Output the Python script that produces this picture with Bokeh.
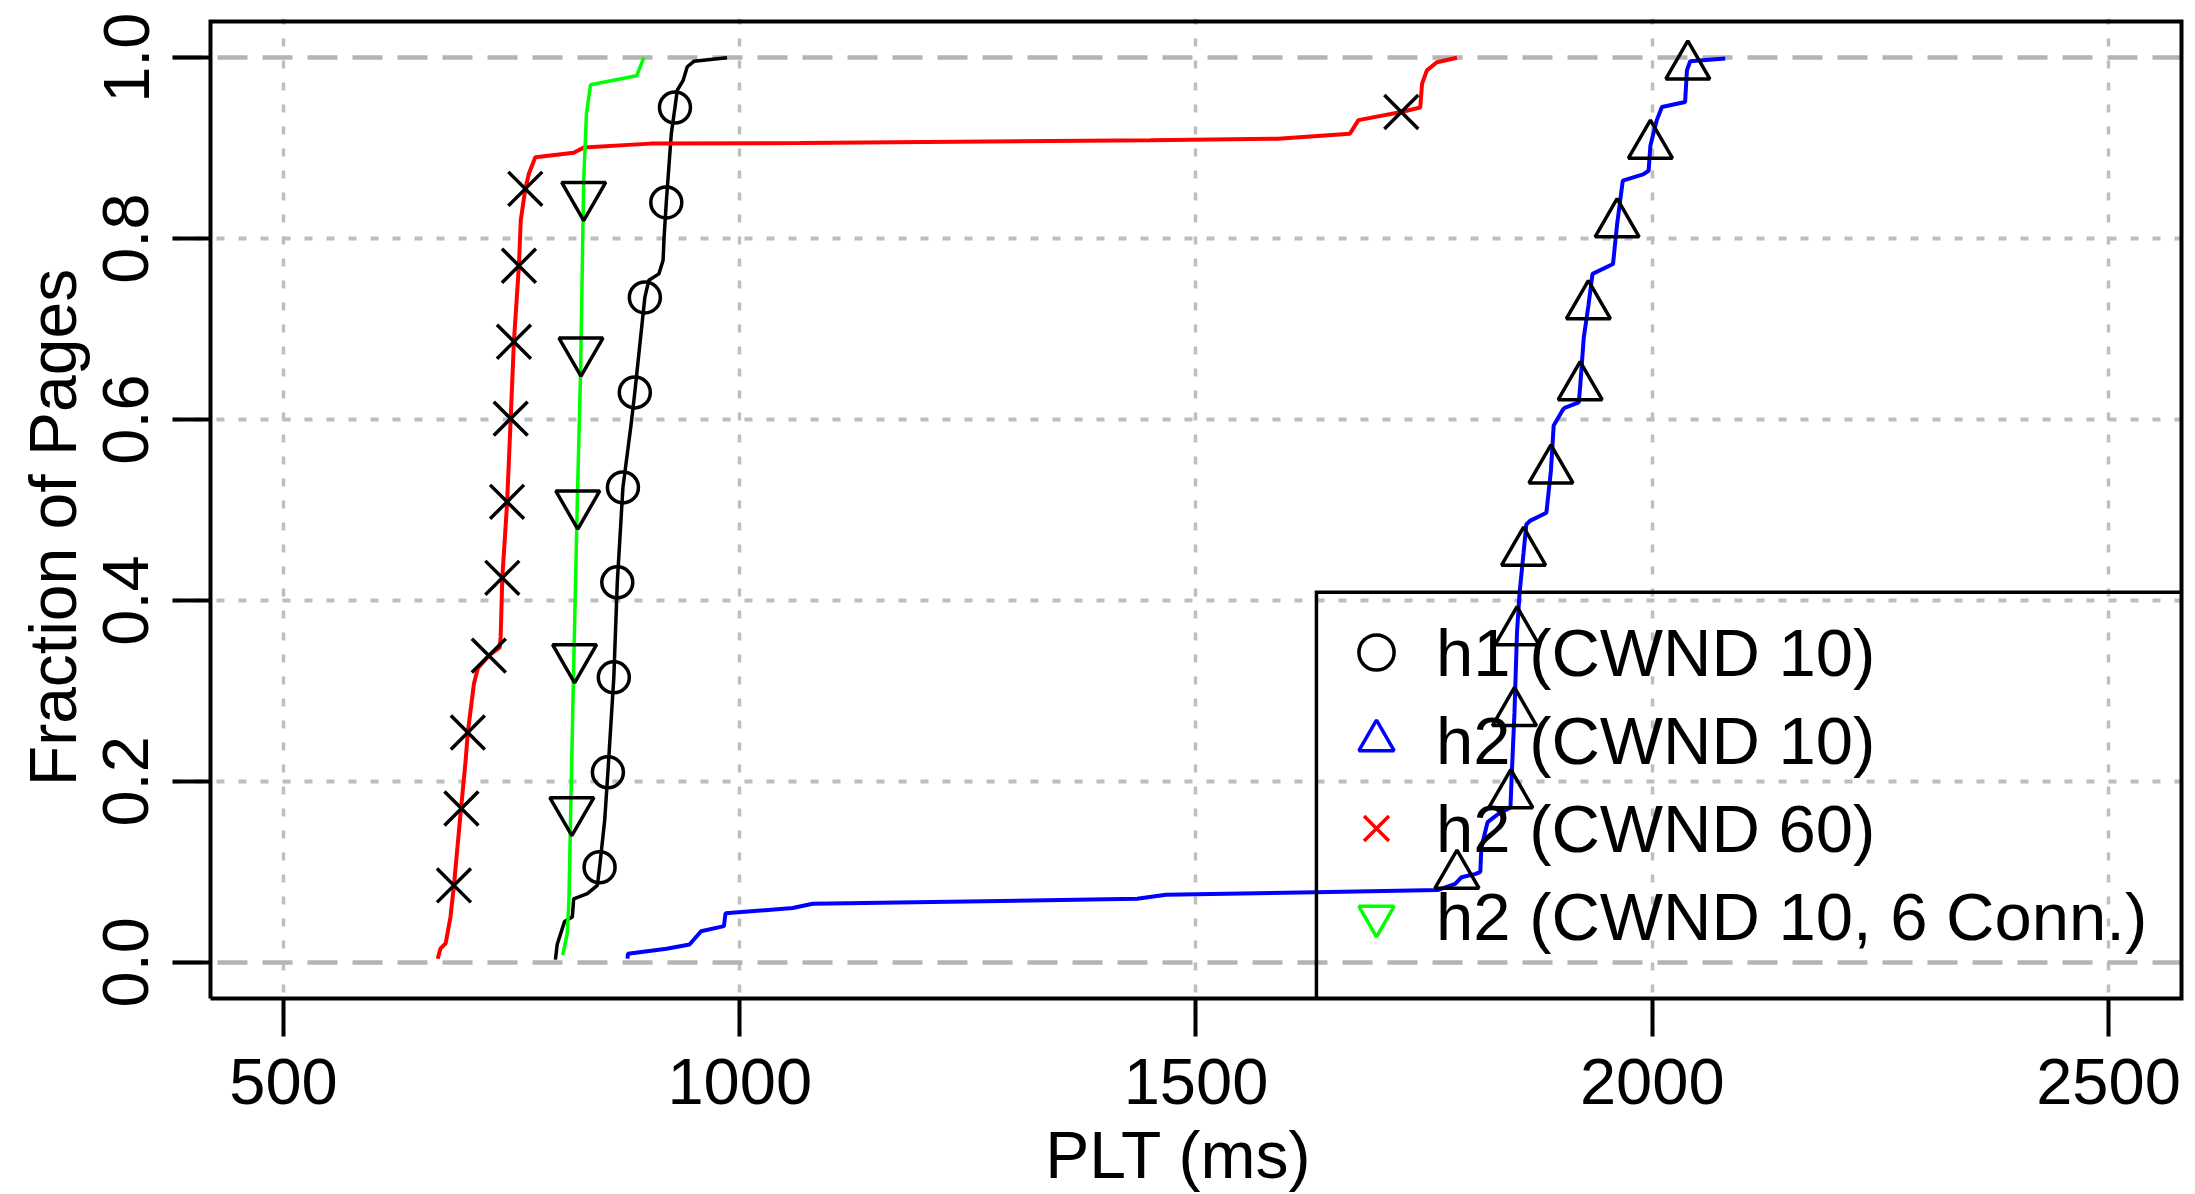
import math
from bokeh.plotting import figure
from bokeh.models import (FixedTicker, PrintfTickFormatter, Grid, Legend, LegendItem, Range1d)
from bokeh.embed import file_html
from bokeh.resources import INLINE

# ---------------- data ----------------
# h1 (CWND 10) -- black ECDF
h1_x = [798, 800, 808, 816.5, 818, 833, 844, 846.4, 852, 855.5, 862, 865.8, 872, 881, 885,
        896, 900.4, 911.4, 916, 917, 919.5, 925, 929, 931.5, 938, 942.5, 949.7, 986]
h1_y = [0.003, 0.02, 0.045, 0.05, 0.07, 0.076, 0.085, 0.105, 0.157, 0.21, 0.315, 0.42, 0.525,
        0.595, 0.63, 0.735, 0.754, 0.761, 0.776, 0.80, 0.84, 0.916, 0.945, 0.964, 0.975,
        0.99, 0.996, 1.0]
h1_mark_x = [846.4, 855.5, 862, 865.8, 872, 885, 896, 919.5, 929]
h1_mark_y = [0.105, 0.21, 0.315, 0.42, 0.525, 0.63, 0.735, 0.84, 0.945]

# h2 (CWND 10) -- blue ECDF
h2_x = [877, 877.5, 919.8, 945, 957.6, 982.7, 984.4, 1058, 1080, 1435.5, 1467, 1630.5, 1765.6,
        1784, 1791, 1806.5, 1811.6, 1812.7, 1819.6, 1830, 1844.6, 1846, 1849, 1851.8, 1854.6,
        1859, 1862, 1866, 1884, 1889, 1892, 1902, 1904, 1919.5, 1921, 1925, 1930, 1934.5,
        1957, 1961.5, 1964.5, 1967.7, 1990, 1996, 1998, 2005, 2010.6, 2036, 2038, 2041.6, 2080]
h2_y = [0.004, 0.0094, 0.015, 0.0197, 0.0344, 0.04, 0.0543, 0.06, 0.0647, 0.0702, 0.0746,
        0.0775, 0.08, 0.0868, 0.094, 0.0978, 0.1, 0.127, 0.155, 0.163, 0.171, 0.2066, 0.2757,
        0.365, 0.408, 0.453, 0.484, 0.488, 0.497, 0.544, 0.5935, 0.6107, 0.613, 0.619, 0.636,
        0.691, 0.7255, 0.761, 0.772, 0.816, 0.839, 0.864, 0.871, 0.875, 0.903, 0.931, 0.9455,
        0.951, 0.986, 0.996, 0.999]
h2_mark_x = [1786, 1845, 1849, 1851.8, 1859, 1889, 1921, 1930, 1961.5, 1998, 2039]
h2_mark_y = [0.096, 0.185, 0.2757, 0.365, 0.453, 0.544, 0.636, 0.7255, 0.816, 0.903, 0.9906]

# h2 (CWND 60) -- red ECDF
h2c60_x = [669, 672, 677.7, 683, 686.8, 694, 699.6, 702, 708.7, 713, 725, 737, 738, 739.8, 745,
           749, 752.5, 758, 760, 765, 769, 776, 818, 829, 902, 1066.6, 1450, 1590, 1668.7,
           1678, 1725, 1745.8, 1747.7, 1753, 1764, 1786]
h2c60_y = [0.004, 0.015, 0.021, 0.05, 0.085, 0.164, 0.223, 0.254, 0.308, 0.325, 0.339, 0.348,
           0.36, 0.425, 0.507, 0.601, 0.686, 0.77, 0.82, 0.855, 0.872, 0.89, 0.895, 0.9006,
           0.905, 0.9057, 0.9088, 0.9105, 0.916, 0.931, 0.94, 0.945, 0.971, 0.986, 0.995, 1.0]
h2c60_mark_x = [686.8, 695, 702, 725, 739.8, 745, 749, 752.5, 758, 765, 1725]
h2c60_mark_y = [0.085, 0.17, 0.254, 0.339, 0.425, 0.509, 0.601, 0.686, 0.77, 0.855, 0.94]

# h2 (CWND 10, 6 Conn.) -- green ECDF
h2c6_x = [806, 811, 812.8, 815, 818, 822, 825.6, 829, 832, 836.5, 887, 894.9]
h2c6_y = [0.008, 0.032, 0.068, 0.179, 0.326, 0.51, 0.654, 0.864, 0.938, 0.97, 0.98, 1.0]
h2c6_mark_x = [816, 819, 822.5, 826, 829]
h2c6_mark_y = [0.168, 0.337, 0.507, 0.676, 0.848]

series_labels = ["h1 (CWND 10)", "h2 (CWND 10)", "h2 (CWND 60)", "h2 (CWND 10, 6 Conn.)"]
x_ticks = [500, 1000, 1500, 2000, 2500]
y_ticks = [0.0, 0.2, 0.4, 0.6, 0.8, 1.0]
y_inner_grid = [0.2, 0.4, 0.6, 0.8]
y_edge_lines = [0.0, 1.0]

# plot-box limits (R style: 4% padding around 500..2500 and 0..1)
box_x0, box_x1 = 420, 2580
box_y0, box_y1 = -0.04, 1.04
legend_box_left, legend_box_top = 1632, 0.409
TICK = 38                       # tick length in px
PAD = 3                         # small frame margin beyond box top/right, px
PX_PER_X = 0.9128               # px per ms
PX_PER_Y = 904.4                # px per unit fraction

FONT = "Liberation Sans"
NAN = float("nan")

# The Bokeh frame is extended by one tick length to the left and bottom, so the
# ticks can be drawn inward from the frame edge; the R-style box is drawn as a path.
p = figure(width=2195, height=1194,
           min_border_left=172, min_border_right=11, min_border_top=18, min_border_bottom=158,
           x_range=Range1d(box_x0 - TICK / PX_PER_X, box_x1 + PAD / PX_PER_X),
           y_range=Range1d(box_y0 - TICK / PX_PER_Y, box_y1 + PAD / PX_PER_Y),
           output_backend="svg", toolbar_location=None)

p.background_fill_color = "white"
p.border_fill_color = "white"
p.outline_line_color = None

# grids
p.xgrid.ticker = FixedTicker(ticks=x_ticks)
p.xgrid.grid_line_color = "#BEBEBE"
p.xgrid.grid_line_width = 3.5
p.xgrid.grid_line_dash = "8 14"
p.ygrid.ticker = FixedTicker(ticks=y_inner_grid)
p.ygrid.grid_line_color = "#BEBEBE"
p.ygrid.grid_line_width = 3.8
p.ygrid.grid_line_dash = "8 14"
edge_grid = Grid(dimension=1, ticker=FixedTicker(ticks=y_edge_lines),
                 grid_line_color="#B4B4B4", grid_line_width=4.5, grid_line_dash="30 15")
p.add_layout(edge_grid)

# axes
xa = p.xaxis[0]
ya = p.yaxis[0]
for ax in (xa, ya):
    ax.axis_line_color = None
    ax.major_tick_out = 0
    ax.major_tick_in = TICK
    ax.major_tick_line_width = 4
    ax.major_tick_line_color = "black"
    ax.minor_tick_line_color = None
    ax.major_label_text_font = FONT
    ax.major_label_text_font_size = "65px"
    ax.major_label_text_color = "black"
    ax.axis_label_text_font = FONT
    ax.axis_label_text_font_size = "66px"
    ax.axis_label_text_font_style = "normal"
    ax.axis_label_text_color = "black"

xa.ticker = FixedTicker(ticks=x_ticks, minor_ticks=[])
xa.axis_label = "PLT (ms)"
xa.major_label_standoff = 22
xa.axis_label_standoff = 11

ya.ticker = FixedTicker(ticks=y_ticks, minor_ticks=[])
ya.formatter = PrintfTickFormatter(format="%.1f")
ya.major_label_orientation = "parallel"
ya.axis_label = "Fraction of Pages"
ya.major_label_standoff = 24
ya.axis_label_standoff = 11

MW = 3.5
# series
p.line(h1_x, h1_y, line_color="black", line_width=3.5)
p.scatter(h1_mark_x, h1_mark_y, marker="circle", size=31, line_color="black",
          fill_color=None, line_width=MW)

p.line(h2_x, h2_y, line_color="#0000FF", line_width=4)
p.scatter(h2_mark_x, h2_mark_y, marker="triangle", size=44, line_color="black",
          fill_color=None, line_width=MW)

p.line(h2c60_x, h2c60_y, line_color="#FF0000", line_width=4)
p.scatter(h2c60_mark_x, h2c60_mark_y, marker="x", size=48, line_color="black",
          fill_color=None, line_width=MW)

p.line(h2c6_x, h2c6_y, line_color="#00FF00", line_width=3.5)
p.scatter(h2c6_mark_x, h2c6_mark_y, marker="inverted_triangle", size=44, line_color="black",
          fill_color=None, line_width=MW)

# plot box (R's box()) and legend box outline, drawn as open/closed paths
p.line([box_x0, box_x1, box_x1, box_x0, box_x0], [box_y0, box_y0, box_y1, box_y1, box_y0],
       line_color="black", line_width=4, line_join="miter")
p.line([box_x1, legend_box_left, legend_box_left], [legend_box_top, legend_box_top, box_y0],
       line_color="black", line_width=3.5, line_join="miter")

# legend symbols (coloured, as in the reference legend); NaN -> nothing drawn in the plot
leg_r1 = p.scatter([NAN], [NAN], marker="circle", line_color="black", fill_color=None, line_width=3.5)
leg_r2 = p.scatter([NAN], [NAN], marker="triangle", line_color="#0000FF", fill_color=None, line_width=3.5)
leg_r3 = p.scatter([NAN], [NAN], marker="x", line_color="#FF0000", fill_color=None, line_width=3.5)
leg_r4 = p.scatter([NAN], [NAN], marker="inverted_triangle", line_color="#00FF00", fill_color=None, line_width=3.5)

legend = Legend(items=[LegendItem(label=series_labels[0], renderers=[leg_r1]),
                       LegendItem(label=series_labels[1], renderers=[leg_r2]),
                       LegendItem(label=series_labels[2], renderers=[leg_r3]),
                       LegendItem(label=series_labels[3], renderers=[leg_r4])],
                location=(1102 + TICK, 18 + TICK), orientation="vertical", padding=20,
                spacing=-7, margin=0,
                glyph_width=88, glyph_height=88, label_height=88, label_standoff=16,
                label_text_font=FONT, label_text_font_size="67px", label_text_color="black",
                border_line_alpha=0, background_fill_alpha=0)
p.add_layout(legend)

open("out.html", "w").write(file_html(p, INLINE))
